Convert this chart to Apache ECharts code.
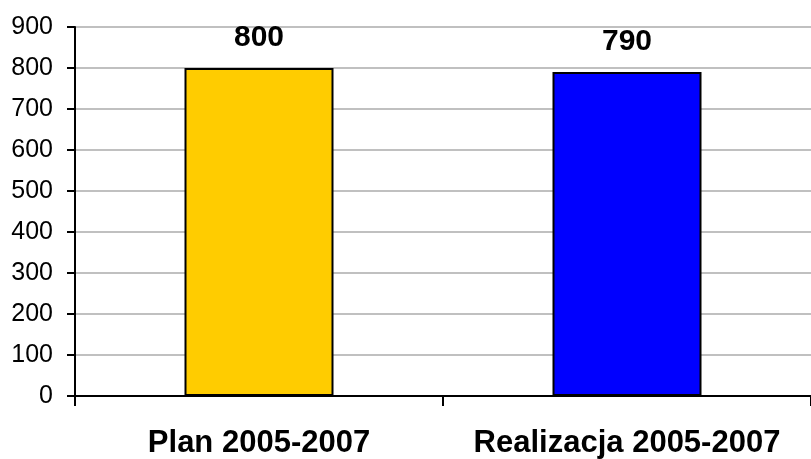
<!DOCTYPE html>
<html><head><meta charset="utf-8">
<script src="https://cdn.jsdelivr.net/npm/echarts@6/dist/echarts.min.js"></script>
<style>html,body{margin:0;padding:0;background:#fff}#c{width:811px;height:459px}</style>
</head><body><div id="c"></div>
<script>
const categories = ['Plan 2005-2007', 'Realizacja 2005-2007'];
const values = [800, 790];
const barColors = ['#FFCC00', '#0000FF'];
const yTicks = { min: 0, max: 900, interval: 100 };

const chart = echarts.init(document.getElementById('c'));
chart.setOption({
  animation: false,
  grid: { left: 75, top: 27, width: 743, bottom: 63, containLabel: false },
  xAxis: {
    type: 'category', data: categories,
    axisLine: { lineStyle: { color: '#000', width: 2 } },
    axisTick: { show: true, length: 10, lineStyle: { color: '#000', width: 2 } },
    axisLabel: { interval: 0, hideOverlap: false, color: '#000', fontFamily: 'Liberation Sans, Arial', fontWeight: 'bold', fontSize: 31, margin: 32 }
  },
  yAxis: {
    type: 'value', min: yTicks.min, max: yTicks.max, interval: yTicks.interval,
    axisLine: { show: true, lineStyle: { color: '#000', width: 2 } },
    axisTick: { show: true, length: 8, lineStyle: { color: '#000', width: 2 } },
    axisLabel: { color: '#000', fontFamily: 'Liberation Sans, Arial', fontSize: 25, margin: 22 },
    splitLine: { lineStyle: { color: '#c0c0c0', width: 2 } }
  },
  series: [{
    type: 'bar', barWidth: 149,
    data: values.map((v, i) => ({ value: v, itemStyle: { color: barColors[i] } })),
    itemStyle: { borderColor: '#000', borderWidth: 2 },
    label: { show: true, position: 'top', distance: 15, color: '#000', fontFamily: 'Liberation Sans, Arial', fontWeight: 'bold', fontSize: 30 }
  }]
});
</script></body></html>
